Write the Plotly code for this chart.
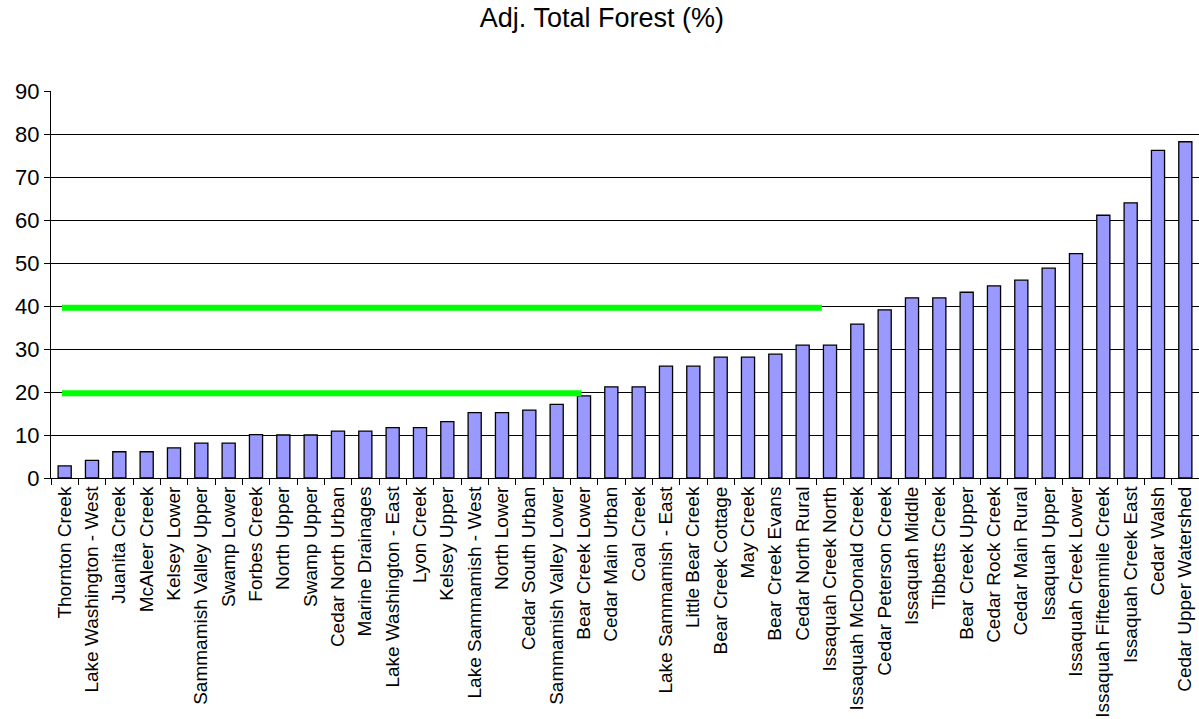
import plotly.graph_objects as go

categories = [
    "Thornton Creek", "Lake Washington - West", "Juanita Creek", "McAleer Creek",
    "Kelsey Lower", "Sammamish Valley Upper", "Swamp Lower", "Forbes Creek",
    "North Upper", "Swamp Upper", "Cedar North Urban", "Marine Drainages",
    "Lake Washington - East", "Lyon Creek", "Kelsey Upper", "Lake Sammamish - West",
    "North Lower", "Cedar South Urban", "Sammamish Valley Lower", "Bear Creek Lower",
    "Cedar Main Urban", "Coal Creek", "Lake Sammamish - East", "Little Bear Creek",
    "Bear Creek Cottage", "May Creek", "Bear Creek Evans", "Cedar North Rural",
    "Issaquah Creek North", "Issaquah McDonald Creek", "Cedar Peterson Creek",
    "Issaquah Middle", "Tibbetts Creek", "Bear Creek Upper", "Cedar Rock Creek",
    "Cedar Main Rural", "Issaquah Upper", "Issaquah Creek Lower",
    "Issaquah Fifteenmile Creek", "Issaquah Creek East", "Cedar Walsh",
    "Cedar Upper Watershed",
]

forest_pct = [
    2.8, 4.1, 6.1, 6.1, 7.0, 8.1, 8.1, 10.1, 10.0, 10.0, 10.9, 10.9,
    11.7, 11.7, 13.1, 15.2, 15.2, 15.8, 17.1, 19.1, 21.2, 21.2, 26.0, 26.0,
    28.1, 28.1, 28.8, 30.9, 30.9, 35.8, 39.1, 41.9, 41.9, 43.2, 44.7, 46.0,
    48.8, 52.2, 61.1, 64.0, 76.2, 78.2,
]

# reference (target) lines: level, start and end in category-index units
target_levels = [39.6, 19.7]
target_start = [-0.1, -0.1]
target_end = [27.7, 18.9]

y_ticks = [0, 10, 20, 30, 40, 50, 60, 70, 80, 90]

fig = go.Figure()
fig.add_trace(go.Bar(
    x=categories, y=forest_pct,
    marker=dict(color="#9999FF", line=dict(color="#000000", width=1.3)),
    showlegend=False,
))

for lvl, x0, x1 in zip(target_levels, target_start, target_end):
    fig.add_shape(type="line", xref="x", yref="y", x0=x0, x1=x1, y0=lvl, y1=lvl,
                  line=dict(color="#00FF00", width=6), layer="above")

fig.update_layout(
    width=1199, height=719, autosize=False,
    margin=dict(l=51, r=0, t=91, b=241),
    paper_bgcolor="white", plot_bgcolor="white",
    bargap=0.52,
    font=dict(family="Liberation Sans, Arial, sans-serif", color="#000000"),
    title=dict(text="Adj. Total Forest (%)", x=0.502, xanchor="center",
               xref="container", y=1 - 18 / 719, yanchor="middle", yref="container",
               font=dict(size=27, color="#000000")),
)
fig.update_xaxes(
    type="category", tickangle=-90, tickfont=dict(size=19), automargin=False,
    showline=True, linecolor="#000000", linewidth=1,
    ticks="outside", tickson="boundaries", ticklen=6, tickcolor="#000000",
    showgrid=False, range=[-0.5, len(categories) - 0.5],
)
fig.update_yaxes(
    range=[0, 90], tickvals=y_ticks, tickfont=dict(size=22), automargin=False,
    showline=True, linecolor="#000000", linewidth=1,
    ticks="outside", ticklen=6, tickcolor="#000000",
    showgrid=True, gridcolor="#000000", gridwidth=1, zeroline=False,
)

fig.write_html(
    "out.html",
    config={"displayModeBar": False},
    post_script="document.body.style.margin='0';document.body.style.overflow='hidden';",
)
